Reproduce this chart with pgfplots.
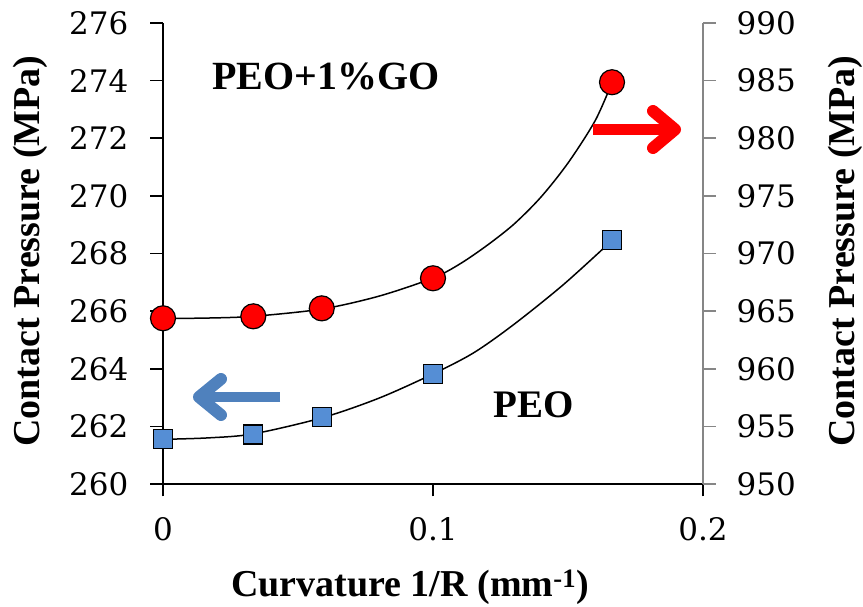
\documentclass[border=0pt]{standalone}
\usepackage{pgfplots}
\pgfplotsset{compat=1.18}
\usepackage{fontspec}
\setmainfont{Liberation Serif}
\newfontfamily\tickfont{DejaVu Serif}
\definecolor{peoblue}{HTML}{558ED5}
\definecolor{arrowblue}{HTML}{4F81BD}
\definecolor{axgray}{HTML}{868686}
\definecolor{gored}{HTML}{FF0000}

\pgfplotstableread{
x y
0 261.55
0.03344 261.72
0.0590 262.33
0.1000 263.82
0.1664 268.46
}\peodata
\pgfplotstableread{
x y
0 261.55
0.0167 261.60
0.03344 261.74
0.0590 262.30
0.0800 262.98
0.1000 263.82
0.1150 264.55
0.1297 265.52
0.1483 266.92
0.1664 268.46
}\peotrend
\pgfplotstableread{
x y
0 964.38
0.03344 964.55
0.0588 965.24
0.1000 967.85
0.1663 984.86
}\godata
\pgfplotstableread{
x y
0 964.36
0.0167 964.40
0.03344 964.55
0.0588 965.18
0.0800 966.30
0.1000 967.87
0.1100 969.10
0.1200 970.70
0.1300 972.55
0.1400 974.90
0.1500 977.85
0.1600 981.50
0.1662 984.77
}\gotrend

\begin{document}
\begin{tikzpicture}
\pgfplotsset{
  common/.style={
    scale only axis, width=540pt, height=461pt,
    at={(0pt,0pt)}, anchor=south west,
    xmin=0, xmax=0.2,
    clip=false,
    tick align=outside, major tick length=12.5pt,
    /pgf/number format/assume math mode=true,
    tick label style={font=\tickfont\fontsize{31}{31}\selectfont, inner sep=0pt},
  }
}
\begin{axis}[common,
  ymin=260, ymax=276,
  axis x line*=bottom, axis y line*=left,
  xtick={0,0.1,0.2}, xticklabels={0,0.1,0.2},
  ytick={260,262,...,276},
  axis line style={black, line width=1.8pt, -},
  every tick/.style={black, line width=1.6pt},
  yticklabel style={xshift=-22pt},
  xticklabel style={yshift=-21pt},
]
\addplot[only marks, mark=square*, mark size=9.5pt,
  mark options={fill=peoblue, draw=black, line width=1.2pt}] table[x=x,y=y] {\peodata};
\addplot[black, line width=1.5pt, smooth, no marks] table[x=x,y=y] {\peotrend};
\end{axis}
\begin{axis}[common,
  ymin=950, ymax=990,
  axis x line=none, axis y line*=right,
  ytick={950,955,...,990},
  axis line style={axgray, line width=1.8pt, -},
  every tick/.style={axgray, line width=1.6pt},
  yticklabel style={xshift=21pt},
]
\addplot[only marks, mark=*, mark size=12.5pt,
  mark options={fill=gored, draw=black, line width=1.2pt}] table[x=x,y=y] {\godata};
\addplot[black, line width=1.5pt, smooth, no marks] table[x=x,y=y] {\gotrend};
\end{axis}
% axis titles and annotations
\node[rotate=90, font=\bfseries\fontsize{38}{38}\selectfont] at (-133pt,233pt) {Contact Pressure (MPa)};
\node[rotate=90, font=\bfseries\fontsize{38}{38}\selectfont] at (682pt,233pt) {Contact Pressure (MPa)};
\node[anchor=base, font=\bfseries\fontsize{38}{38}\selectfont, inner sep=0pt] at (247pt,-113pt) {Curvature 1/R (mm\textsuperscript{-1})};
\node[anchor=base west, font=\bfseries\fontsize{40}{40}\selectfont, inner sep=0pt] at (49pt,394pt) {PEO+1\%GO};
\node[anchor=base west, font=\bfseries\fontsize{39}{39}\selectfont, inner sep=0pt] at (330pt,66pt) {PEO};
% blue arrow (left axis)
\draw[arrowblue, line width=10.5pt, line cap=butt] (117pt,87pt) -- (40pt,87pt);
\draw[arrowblue, line width=12pt, line cap=round, line join=round] (58pt,105pt) -- (36pt,87pt) -- (58pt,69pt);
% red arrow (right axis)
\draw[gored, line width=11pt, line cap=butt] (430pt,354.5pt) -- (508pt,354.5pt);
\draw[gored, line width=12pt, line cap=round, line join=round] (490pt,373pt) -- (512pt,354.5pt) -- (490pt,336pt);
\pgfresetboundingbox
\useasboundingbox (-163pt,-123pt) rectangle (700pt,484pt);
\end{tikzpicture}
\end{document}
